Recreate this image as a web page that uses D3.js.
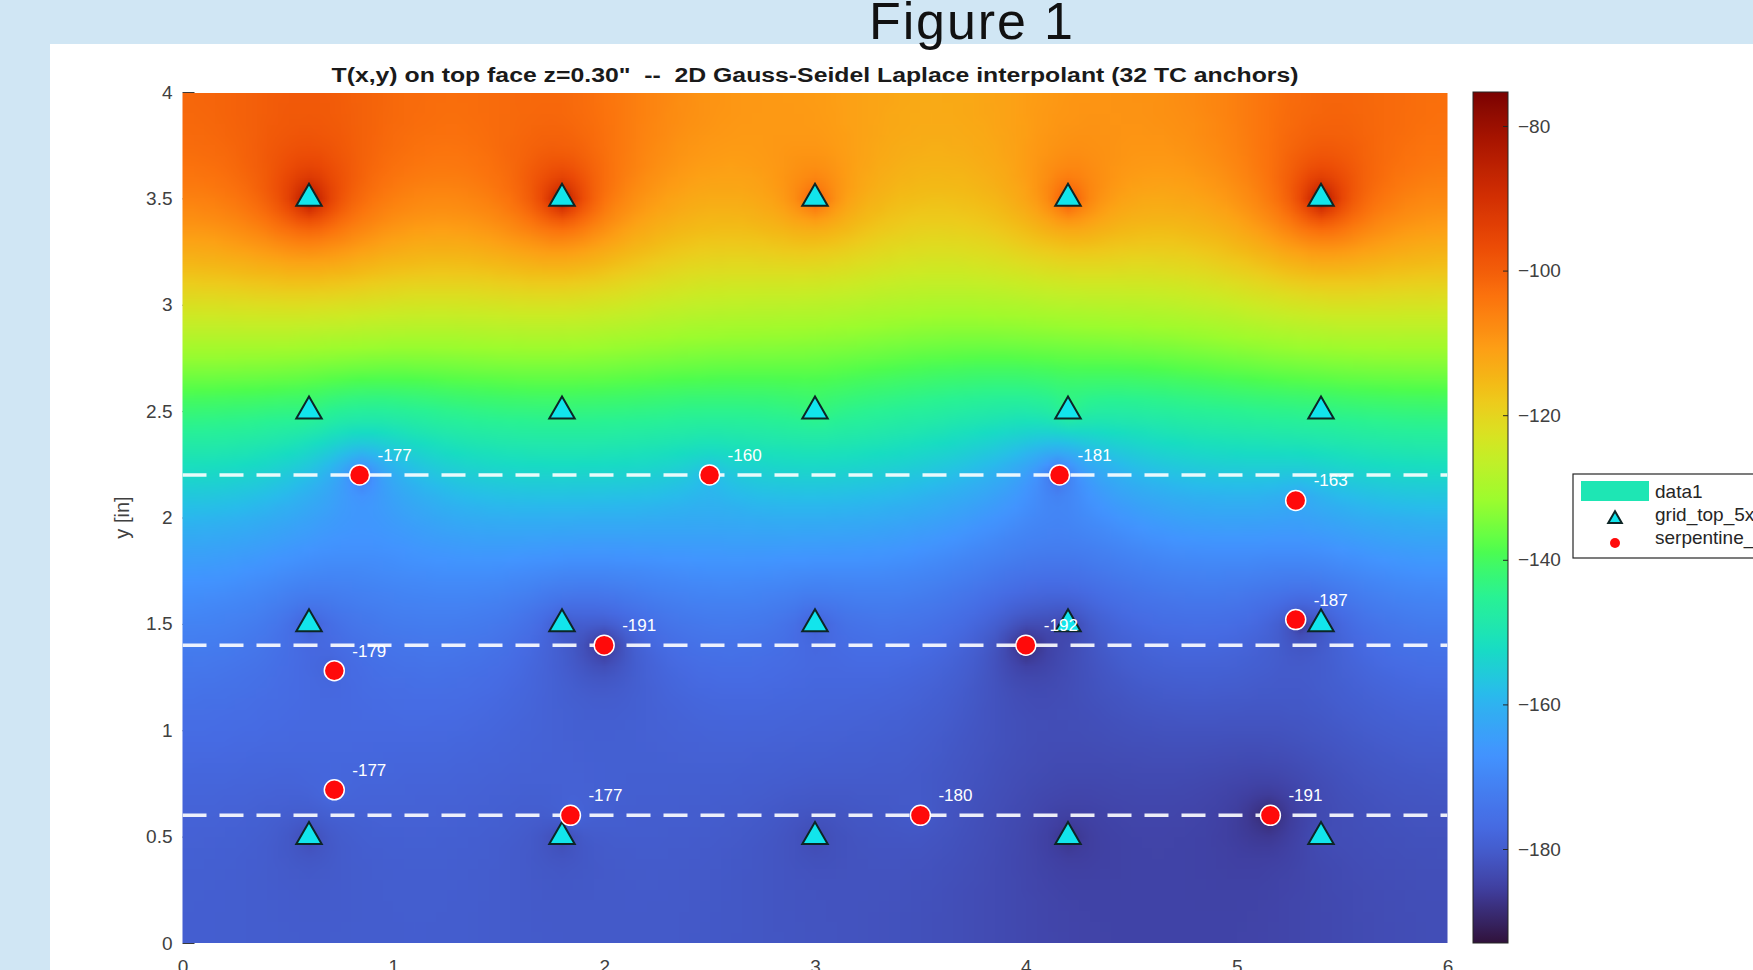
<!DOCTYPE html>
<html>
<head>
<meta charset="utf-8">
<script src="https://cdn.jsdelivr.net/npm/d3@7"></script>
<style>
  body { margin: 0; background: #d0e6f4; overflow: hidden; }
  svg { display: block; font-family: "Liberation Sans", Arial, Helvetica, sans-serif; }
</style>
</head>
<body>
<svg id="fig" width="1753" height="970"></svg>
<script>
// grid TCs on the top face (5 x 4), rows follow gridY
const gridX = [0.6, 1.8, 3.0, 4.2, 5.4];
const gridY = [0.5, 1.5, 2.5, 3.5];
const gridT = [
  [-184, -184.5, -184, -188, -182.5],
  [-181, -182, -181, -185.5, -182],
  [-143, -143, -142, -143, -144],
  [-75.3, -77, -97, -94, -75.3]
];

// serpentine TCs (value labels are printed on the plot)
const serpX = [0.84, 2.50, 4.16, 5.28, 0.72, 2.00, 4.00, 5.28, 0.72, 1.84, 3.50, 5.16];
const serpY = [2.20, 2.20, 2.20, 2.08, 1.28, 1.40, 1.40, 1.52, 0.72, 0.60, 0.60, 0.60];
const serpT = [-177, -160, -181, -163, -179, -191, -192, -187, -177, -177, -180, -191];

// serpentine passes (dashed)
const passY = [2.2, 1.4, 0.6];

const xTicks = [0, 1, 2, 3, 4, 5, 6];
const yTicks = [0, 0.5, 1, 1.5, 2, 2.5, 3, 3.5, 4];
const cbTicks = [-180, -160, -140, -120, -100, -80];
const colorLimits = [-193, -75.3];
const legendLabels = ["data1", "grid_top_5x4", "serpentine_12"];
const titleText = 'T(x,y) on top face z=0.30"  --  2D Gauss-Seidel Laplace interpolant (32 TC anchors)';

// turbo colormap, every 16th entry of the 256 table
const turboStops = ["#30123b", "#4040a2", "#466be3", "#4294ff", "#28bceb", "#18ddc2", "#32f298", "#6dfe62",
  "#a4fc3c", "#cdec34", "#eecf3a", "#fdac34", "#fb7e21", "#eb500e", "#d02f05", "#a91601", "#7a0403"];

const svg = d3.select("#fig");

const x = d3.scaleLinear().domain([0, 6]).range([182.5, 1447.5]);
const y = d3.scaleLinear().domain([0, 4]).range([943, 92]);

const turboPos = turboStops.map((c, i) => Math.min(1, i * 16 / 255));
const turbo = d3.scaleLinear().domain(turboPos).range(turboStops).interpolate(d3.interpolateRgb).clamp(true);
// the screen grab sits a little lower on the map in the mid range and is punchier in the warm half
const warp = d3.scaleLinear().domain([0, 0.11, 0.2, 0.28, 0.37, 0.45, 0.6, 1]).range([0, 0.105, 0.17, 0.235, 0.34, 0.42, 0.59, 1]);
const punch = d3.scaleLinear().domain([0, 0.3, 0.4, 0.55, 0.65, 1]).range([0, 0, 0.25, 0.25, 0.6, 0.6]).clamp(true);
function mapColor(t) {
  const u = warp(t);
  const c = d3.rgb(turbo(u));
  const f = punch(u);
  if (!f) return c;
  const mx = Math.max(c.r, c.g, c.b), mn = Math.min(c.r, c.g, c.b);
  const s = mx ? 1 - mn / mx : 0;
  if (!s) return c;
  const k = (s + (1 - s) * f) / s;
  return d3.rgb(mx - (mx - c.r) * k, mx - (mx - c.g) * k, mx - (mx - c.b) * k);
}

//------- ANCHORS -------
const anchors = [];
gridY.forEach((gy, r) => gridX.forEach((gx, c) => anchors.push({ x: gx, y: gy, t: gridT[r][c] })));
serpX.forEach((sx, i) => anchors.push({ x: sx, y: serpY[i], t: serpT[i] }));

const color = d3.scaleSequential(mapColor).domain(colorLimits);

//------- LAPLACE SOLVE (Gauss-Seidel, over-relaxed) -------
const h = 0.05;
const nx = Math.round(6 / h) + 1, ny = Math.round(4 / h) + 1;
const T = new Float64Array(nx * ny);
const fixed = new Uint8Array(nx * ny);
T.fill(d3.mean(anchors, d => d.t));
anchors.forEach(a => {
  const k = Math.round(a.y / h) * nx + Math.round(a.x / h);
  T[k] = a.t; fixed[k] = 1;
});
const w = 1.9;
for (let it = 0; it < 4000; it++) {
  for (let j = 0; j < ny; j++) {
    for (let i = 0; i < nx; i++) {
      const k = j * nx + i;
      if (fixed[k]) continue;
      const l = i > 0 ? T[k - 1] : T[k + 1];
      const r = i < nx - 1 ? T[k + 1] : T[k - 1];
      const d = j > 0 ? T[k - nx] : T[k + nx];
      const u = j < ny - 1 ? T[k + nx] : T[k - nx];
      T[k] += w * ((l + r + d + u) / 4 - T[k]);
    }
  }
}

//------- BACKGROUND PANEL + FIGURE NAME -------
svg.append("rect").attr("x", 50).attr("y", 44).attr("width", 1753).attr("height", 970).attr("fill", "#fff");
svg.append("text")
  .attr("x", 971).attr("y", 39)
  .attr("text-anchor", "middle")
  .attr("font-size", 52)
  .attr("textLength", 204)
  .attr("fill", "#111")
  .text("Figure 1");

//------- AXES (under the image, like matlab) -------
const yAxis = svg.append("g")
  .attr("transform", "translate(" + x(0) + ",0)")
  .call(d3.axisLeft(y).tickValues(yTicks).tickFormat(d3.format("")).tickSizeInner(-12).tickSizeOuter(0).tickPadding(10));
const xAxis = svg.append("g")
  .attr("transform", "translate(0," + y(0) + ")")
  .call(d3.axisBottom(x).tickValues(xTicks).tickFormat(d3.format("")).tickSizeInner(0).tickSizeOuter(0).tickPadding(17));
[xAxis, yAxis].forEach(g => {
  g.select(".domain").remove();
  g.selectAll("line").attr("stroke", "#3a3a3a");
  g.selectAll("text").attr("font-size", 19).attr("fill", "#404040").attr("font-family", null);
});

svg.append("text")
  .attr("transform", "translate(122," + y(2) + ") rotate(-90)")
  .attr("text-anchor", "middle")
  .attr("dominant-baseline", "central")
  .attr("font-size", 20)
  .attr("fill", "#404040")
  .text("y [in]");

//------- FIELD IMAGE -------
const canvas = document.createElement("canvas");
canvas.width = nx; canvas.height = ny;
const ctx = canvas.getContext("2d");
const img = ctx.createImageData(nx, ny);
for (let j = 0; j < ny; j++) {
  for (let i = 0; i < nx; i++) {
    const c = d3.rgb(color(T[j * nx + i]));
    const p = ((ny - 1 - j) * nx + i) * 4;
    img.data[p] = c.r; img.data[p + 1] = c.g; img.data[p + 2] = c.b; img.data[p + 3] = 255;
  }
}
ctx.putImageData(img, 0, 0);

svg.append("clipPath").attr("id", "plotClip")
  .append("rect")
  .attr("x", x(0)).attr("y", y(4) + 1)
  .attr("width", x(6) - x(0)).attr("height", y(0) - y(4) - 1);

const plot = svg.append("g").attr("clip-path", "url(#plotClip)");
plot.append("image")
  .attr("href", canvas.toDataURL())
  .attr("preserveAspectRatio", "none")
  .attr("x", x(-h / 2)).attr("y", y(4 + h / 2))
  .attr("width", x(6 + h / 2) - x(-h / 2))
  .attr("height", y(-h / 2) - y(4 + h / 2));

//------- SERPENTINE PASSES -------
plot.selectAll("line.pass")
  .data(passY)
  .enter().append("line")
  .attr("class", "pass")
  .attr("x1", x(0)).attr("x2", x(6))
  .attr("y1", d => y(d)).attr("y2", d => y(d))
  .attr("stroke", "#fff")
  .attr("stroke-opacity", 0.9)
  .attr("stroke-width", 3.5)
  .attr("stroke-dasharray", "24,13");

//------- MARKERS -------
const tri = d3.symbol().type(d3.symbolTriangle).size(280);
const gridPts = anchors.slice(0, gridX.length * gridY.length);
plot.selectAll("path.grid")
  .data(gridPts)
  .enter().append("path")
  .attr("class", "grid")
  .attr("d", tri)
  .attr("transform", d => "translate(" + x(d.x) + "," + y(d.y) + ")")
  .attr("fill", "#12e5ec")
  .attr("stroke", "#0d2626")
  .attr("stroke-width", 2);

plot.selectAll("circle.serp")
  .data(serpT)
  .enter().append("circle")
  .attr("class", "serp")
  .attr("cx", (d, i) => x(serpX[i]))
  .attr("cy", (d, i) => y(serpY[i]))
  .attr("r", 10)
  .attr("fill", "#ff0a0a")
  .attr("stroke", "#fff")
  .attr("stroke-width", 1.5);

plot.selectAll("text.lab")
  .data(serpT)
  .enter().append("text")
  .attr("class", "lab")
  .attr("x", (d, i) => x(serpX[i]) + 18)
  .attr("y", (d, i) => y(serpY[i]) - 14)
  .attr("font-size", 17)
  .attr("fill", "#fff")
  .text(d => d);

//------- TITLE -------
svg.append("text")
  .attr("x", (x(0) + x(6)) / 2).attr("y", 82)
  .attr("text-anchor", "middle")
  .attr("font-size", 20)
  .attr("font-weight", "bold")
  .attr("textLength", 967)
  .attr("lengthAdjust", "spacingAndGlyphs")
  .attr("fill", "#1a1a1a")
  .style("white-space", "pre")
  .text(titleText);

//------- COLORBAR -------
const cb = d3.scaleLinear().domain(colorLimits).range([y(0), y(4)]);
const grad = svg.append("defs").append("linearGradient")
  .attr("id", "cbGrad")
  .attr("x1", 0).attr("y1", 1).attr("x2", 0).attr("y2", 0);
grad.selectAll("stop")
  .data(d3.range(0, 1.0001, 1 / 96))
  .enter().append("stop")
  .attr("offset", d => d)
  .attr("stop-color", d => color(colorLimits[0] + d * (colorLimits[1] - colorLimits[0])));

const cbX = 1473, cbW = 35;
svg.append("rect")
  .attr("x", cbX).attr("y", y(4))
  .attr("width", cbW).attr("height", y(0) - y(4))
  .attr("fill", "url(#cbGrad)")
  .attr("stroke", "#262626")
  .attr("stroke-width", 1);
const cbAxis = svg.append("g")
  .attr("transform", "translate(" + (cbX + cbW) + ",0)")
  .call(d3.axisRight(cb).tickValues(cbTicks).tickSizeInner(-5).tickSizeOuter(0).tickPadding(10));
cbAxis.select(".domain").remove();
cbAxis.selectAll("line").attr("stroke", "#262626");
cbAxis.selectAll("text").attr("font-size", 19).attr("fill", "#404040").attr("font-family", null);

//------- LEGEND -------
const lg = svg.append("g").attr("transform", "translate(1573,474)");
lg.append("rect")
  .attr("width", 240).attr("height", 84)
  .attr("fill", "#fff")
  .attr("stroke", "#262626")
  .attr("stroke-width", 1.2);
lg.append("rect").attr("x", 8).attr("y", 7).attr("width", 68).attr("height", 20).attr("fill", "#1ee6b4");
lg.append("path")
  .attr("d", d3.symbol().type(d3.symbolTriangle).size(80))
  .attr("transform", "translate(42,45)")
  .attr("fill", "#12e5ec").attr("stroke", "#0d2626").attr("stroke-width", 2);
lg.append("circle").attr("cx", 42).attr("cy", 69).attr("r", 5).attr("fill", "#ff0a0a");
lg.selectAll("text")
  .data(legendLabels)
  .enter().append("text")
  .attr("x", 82)
  .attr("y", (d, i) => 24 + i * 23)
  .attr("font-size", 19)
  .attr("fill", "#262626")
  .text(d => d);
</script>
</body>
</html>
